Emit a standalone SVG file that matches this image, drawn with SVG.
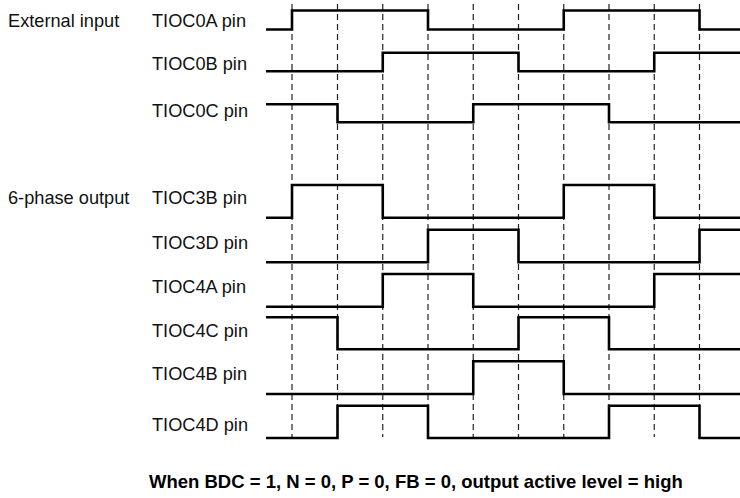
<svg xmlns="http://www.w3.org/2000/svg" width="740" height="498" viewBox="0 0 740 498">
<style>
text{font-family:"Liberation Sans",Arial,sans-serif;font-size:18.2px;fill:#111}
.t{font-weight:bold;font-size:18.5px;fill:#000}
.w{fill:none;stroke:#000;stroke-width:2.6;stroke-linejoin:miter;stroke-linecap:butt}
.d{stroke:#222;stroke-width:1.2;stroke-dasharray:6 4}
</style>
<rect width="740" height="498" fill="#fff"/>
<g id="grid">
<line class="d" x1="292" y1="4" x2="292" y2="437"/>
<line class="d" x1="337.5" y1="4" x2="337.5" y2="437"/>
<line class="d" x1="382.75" y1="4" x2="382.75" y2="437"/>
<line class="d" x1="428" y1="4" x2="428" y2="437"/>
<line class="d" x1="473.25" y1="4" x2="473.25" y2="437"/>
<line class="d" x1="518.5" y1="4" x2="518.5" y2="437"/>
<line class="d" x1="563.75" y1="4" x2="563.75" y2="437"/>
<line class="d" x1="609" y1="4" x2="609" y2="437"/>
<line class="d" x1="654.25" y1="4" x2="654.25" y2="437"/>
<line class="d" x1="699.5" y1="4" x2="699.5" y2="437"/>
</g>
<g id="group-labels">
<text x="8" y="27">External input</text>
<text x="8" y="204">6-phase output</text>
</g>
<g id="TIOC0A">
<text x="152" y="27">TIOC0A pin</text>
<path class="w" d="M266,29.5 H292 V10.5 H428 V29.5 H563.75 V10.5 H699.5 V29.5 H740"/>
</g>
<g id="TIOC0B">
<text x="152" y="70">TIOC0B pin</text>
<path class="w" d="M266,71.3 H382.75 V52.7 H518.5 V71.3 H654.25 V52.7 H740"/>
</g>
<g id="TIOC0C">
<text x="152" y="117">TIOC0C pin</text>
<path class="w" d="M266,104.3 H337.5 V122.3 H473.25 V104.3 H609 V122.3 H740"/>
</g>
<g id="TIOC3B">
<text x="152" y="204">TIOC3B pin</text>
<path class="w" d="M266,217.7 H292 V185 H382.75 V217.7 H563.75 V185 H654.25 V217.7 H740"/>
</g>
<g id="TIOC3D">
<text x="152" y="249">TIOC3D pin</text>
<path class="w" d="M266,262.3 H428 V229.7 H518.5 V262.3 H699.5 V229.7 H740"/>
</g>
<g id="TIOC4A">
<text x="152" y="293">TIOC4A pin</text>
<path class="w" d="M266,306.7 H382.75 V274 H473.25 V306.7 H654.25 V274 H740"/>
</g>
<g id="TIOC4C">
<text x="152" y="337">TIOC4C pin</text>
<path class="w" d="M266,317.3 H337.5 V349.3 H518.5 V317.3 H609 V349.3 H740"/>
</g>
<g id="TIOC4B">
<text x="152" y="380">TIOC4B pin</text>
<path class="w" d="M266,394 H473.25 V361.3 H563.75 V394 H740"/>
</g>
<g id="TIOC4D">
<text x="152" y="431">TIOC4D pin</text>
<path class="w" d="M266,438 H337.5 V405.7 H428 V438 H609 V405.7 H699.5 V438 H740"/>
</g>
<g id="caption">
<text class="t" x="149" y="488">When BDC = 1, N = 0, P = 0, FB = 0, output active level = high</text>
</g>
</svg>
